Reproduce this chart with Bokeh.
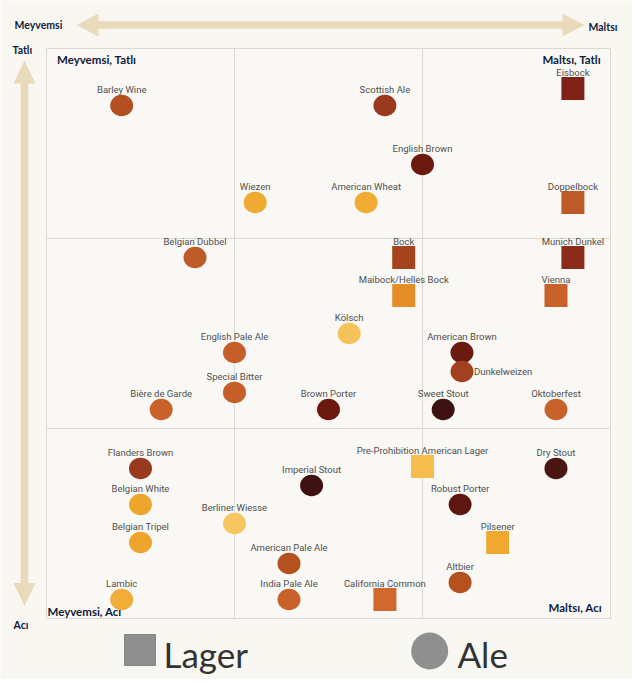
from bokeh.plotting import figure
from bokeh.models import ColumnDataSource, Range1d
from bokeh.core.properties import value
from bokeh.embed import file_html
from bokeh.resources import INLINE

# ---------------- data ----------------
styles = ["Barley Wine", "Scottish Ale", "Eisbock", "English Brown", "Wiezen",
          "American Wheat", "Doppelbock", "Belgian Dubbel", "Bock", "Munich Dunkel",
          "Maibock/Helles Bock", "Vienna", "Kölsch", "English Pale Ale", "American Brown",
          "Dunkelweizen", "Special Bitter", "Bière de Garde", "Brown Porter", "Sweet Stout",
          "Oktoberfest", "Flanders Brown", "Dry Stout", "Pre-Prohibition American Lager",
          "Imperial Stout", "Belgian White", "Robust Porter", "Berliner Wiesse",
          "Belgian Tripel", "Pilsener", "American Pale Ale", "Altbier", "Lambic",
          "India Pale Ale", "California Common"]
kinds = ["Ale", "Ale", "Lager", "Ale", "Ale",
         "Ale", "Lager", "Ale", "Lager", "Lager",
         "Lager", "Lager", "Ale", "Ale", "Ale",
         "Ale", "Ale", "Ale", "Ale", "Ale",
         "Ale", "Ale", "Ale", "Lager",
         "Ale", "Ale", "Ale", "Ale",
         "Ale", "Lager", "Ale", "Ale", "Ale",
         "Ale", "Lager"]
# 0 = Meyvemsi (fruity) ... 3 = Maltsı (malty)
fruity_malty = [0.40, 1.80, 2.80, 2.00, 1.11,
                1.70, 2.80, 0.79, 1.90, 2.80,
                1.90, 2.71, 1.61, 1.00, 2.21,
                2.21, 1.00, 0.61, 1.50, 2.11,
                2.71, 0.50, 2.71, 2.00,
                1.41, 0.50, 2.20, 1.00,
                0.50, 2.40, 1.29, 2.20, 0.40,
                1.29, 1.80]
# 0 = Acı (bitter) ... 3 = Tatlı (sweet)
bitter_sweet = [2.70, 2.70, 2.79, 2.39, 2.19,
                2.19, 2.19, 1.90, 1.90, 1.90,
                1.70, 1.70, 1.50, 1.40, 1.40,
                1.30, 1.19, 1.10, 1.10, 1.10,
                1.10, 0.79, 0.79, 0.80,
                0.70, 0.60, 0.60, 0.50,
                0.40, 0.40, 0.29, 0.19, 0.10,
                0.10, 0.10]
colors = ["#b44f20", "#993a1e", "#7e2218", "#6c1a10", "#efab31",
          "#efab33", "#bf5a28", "#bd5a28", "#a6431f", "#8c2a1c",
          "#e58e27", "#c8612a", "#f6c25a", "#c55e28", "#6a1a10",
          "#a3401f", "#c55e28", "#c8622a", "#6c1a10", "#3d1210",
          "#c8622a", "#983a1f", "#4a1612", "#f6bc4d",
          "#3d1210", "#eea52c", "#5e1610", "#f6c761",
          "#eea52c", "#f0a92f", "#b5501f", "#b5501f", "#f0ae38",
          "#c8622a", "#d06a2c"]

quadrant_labels = ["Meyvemsi, Tatlı", "Maltsı, Tatlı", "Meyvemsi, Acı", "Maltsı, Acı"]
axis_words = ["Meyvemsi", "Maltsı", "Tatlı", "Acı"]
legend_names = ["Lager", "Ale"]

# ---------------- geometry (page-pixel helpers) ----------------
PX_X = 188.0   # pixels per unit x
PX_Y = 190.0   # pixels per unit y
def dx(px):   # page x pixel -> data x
    return (px - 46.0) / PX_X
def dy(py):   # page y pixel -> data y
    return (618.0 - py) / PX_Y

W, H = 632, 679
OX, OY = 0, 0   # page position of the figure's top-left corner
BG = "#f9f7f2"
p = figure(width=W, height=H, output_backend="svg", toolbar_location=None,
           x_range=Range1d(dx(OX), dx(OX + W)), y_range=Range1d(dy(OY + H), dy(OY)),
           min_border=0, outline_line_color=None,
           background_fill_color=BG, border_fill_color=BG)
p.axis.visible = False
p.grid.visible = False

# arrows
ARROW = "#e8dabb"
hx = [76, 98, 98, 562, 562, 584, 562, 562, 98, 98]
hy = [24.5, 13, 20.8, 20.8, 13, 24.5, 36, 28.2, 28.2, 36]
vx = [24, 35, 27.8, 27.8, 35, 24, 13, 20.2, 20.2, 13]
vy = [60, 83, 83, 582.5, 582.5, 605.5, 582.5, 582.5, 83, 83]
p.patches([[dx(v) for v in hx], [dx(v) for v in vx]],
          [[dy(v) for v in hy], [dy(v) for v in vy]],
          fill_color=ARROW, line_color=None)

# box and grid
p.quad(left=0, right=3, bottom=0, top=3, fill_color="#faf8f4", line_color="#dcd9d2", line_width=1)
p.segment(x0=[1, 2, 0, 0], y0=[0, 0, 1, 2], x1=[1, 2, 3, 3], y1=[3, 3, 1, 2],
          line_color="#dcd9d2", line_width=1)

# markers
ale_idx = [i for i, k in enumerate(kinds) if k == "Ale"]
lag_idx = [i for i, k in enumerate(kinds) if k == "Lager"]
ale_src = ColumnDataSource(dict(x=[fruity_malty[i] for i in ale_idx],
                                y=[bitter_sweet[i] for i in ale_idx],
                                c=[colors[i] for i in ale_idx]))
lag_src = ColumnDataSource(dict(x=[fruity_malty[i] for i in lag_idx],
                                y=[bitter_sweet[i] for i in lag_idx],
                                c=[colors[i] for i in lag_idx]))
p.ellipse(x="x", y="y", width=23 / PX_X, height=21.5 / PX_Y,
          fill_color="c", line_color=None, source=ale_src)
p.scatter(x="x", y="y", marker="square", size=23,
          fill_color="c", line_color=None, source=lag_src)

# marker labels
LABEL_FONT = value("Roboto")
right_side = {"Dunkelweizen"}
top_i = [i for i, s in enumerate(styles) if s not in right_side]
side_i = [i for i, s in enumerate(styles) if s in right_side]
p.text(x=[fruity_malty[i] for i in top_i], y=[bitter_sweet[i] for i in top_i],
       text=[styles[i] for i in top_i], text_font=LABEL_FONT, text_font_size="9.5px",
       text_color="#4f4f4f", text_align="center", text_baseline="middle", y_offset=-16)
p.text(x=[fruity_malty[i] for i in side_i], y=[bitter_sweet[i] for i in side_i],
       text=[styles[i] for i in side_i], text_font=LABEL_FONT, text_font_size="9.5px",
       text_color="#4f4f4f", text_align="left", text_baseline="middle", x_offset=12)

# quadrant labels
NAVY = "#0f1a3c"
p.text(x=[dx(56.5), dx(600.5), dx(47), dx(601.5)],
       y=[dy(59), dy(58.5), dy(611), dy(607)],
       text=quadrant_labels, text_align=["left", "right", "left", "right"],
       text_baseline="middle", text_font=value("Lato"), text_font_style="bold",
       text_font_size="11.5px", text_color=NAVY)

# outer axis words
p.text(x=[dx(14), dx(588), dx(12), dx(13)],
       y=[dy(24.5), dy(26.5), dy(49.5), dy(624)],
       text=axis_words, text_align="left", text_baseline="middle",
       text_font=value("Lato"), text_font_style="bold", text_font_size="10.5px",
       text_color=NAVY)

# legend
GRAY = "#8f8f8f"
p.scatter(x=[dx(139.5)], y=[dy(649.5)], marker="square", size=31,
          fill_color=GRAY, line_color="#858585")
p.ellipse(x=[dx(429.2)], y=[dy(650.5)], width=37 / PX_X, height=37 / PX_Y,
          fill_color=GRAY, line_color=None)
p.text(x=[dx(163), dx(457)], y=[dy(653), dy(653)], text=legend_names,
       text_align="left", text_baseline="middle", text_font=value("Lato"),
       text_font_size="35px", text_color="#333333")

html = file_html(p, INLINE)
html = html.replace("<body>", '<body style="background:%s">' % BG, 1)
open("out.html", "w").write(html)
